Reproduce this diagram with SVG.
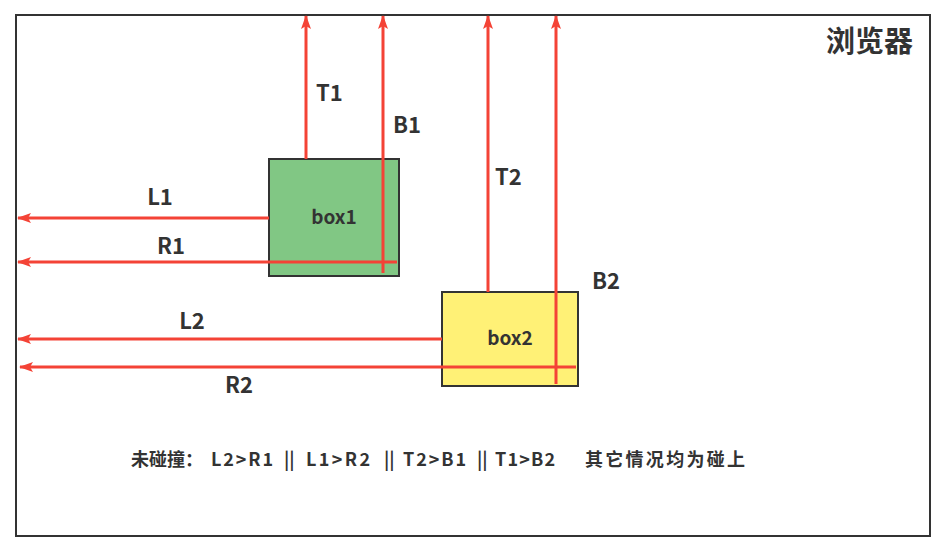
<svg xmlns="http://www.w3.org/2000/svg" width="945" height="551" viewBox="0 0 945 551">
<style>
.lbl{font-family:"Noto Sans CJK SC","Open Sans",sans-serif;font-weight:bold;fill:#333;}
.arr{stroke:#f44336;stroke-width:3;fill:none;}
.box{stroke:#333;stroke-width:2;}
</style>
<defs>
<marker id="ah" viewBox="0 0 14 10" refX="13" refY="5" markerWidth="14" markerHeight="10" markerUnits="userSpaceOnUse" orient="auto">
<path d="M0,0 L14,5 L0,10 L3,5 Z" fill="#f44336"/>
</marker>
</defs>
<rect width="945" height="551" fill="#fff"/>
<g id="browser">
<rect x="16" y="15" width="914" height="521" fill="#fff" stroke="#333" stroke-width="2"/>
<text class="lbl" x="913" y="52" font-size="29" text-anchor="end">浏览器</text>
</g>
<g id="box1">
<rect class="box" x="269" y="159" width="130" height="117" fill="#81c784"/>
<text class="lbl" x="334" y="224" font-size="19" text-anchor="middle">box1</text>
</g>
<g id="box2">
<rect class="box" x="442" y="292" width="136" height="94" fill="#fff176"/>
<text class="lbl" x="510" y="345" font-size="19" text-anchor="middle">box2</text>
</g>
<g id="connectors">
<line class="arr" x1="269" y1="218" x2="18" y2="218" marker-end="url(#ah)"/>
<line class="arr" x1="397" y1="262" x2="18" y2="262" marker-end="url(#ah)"/>
<line class="arr" x1="442" y1="339" x2="18" y2="339" marker-end="url(#ah)"/>
<line class="arr" x1="576" y1="367" x2="20" y2="367" marker-end="url(#ah)"/>
<line class="arr" x1="306" y1="159" x2="306" y2="16" marker-end="url(#ah)"/>
<line class="arr" x1="383" y1="273" x2="383" y2="16" marker-end="url(#ah)"/>
<line class="arr" x1="488" y1="292" x2="488" y2="16" marker-end="url(#ah)"/>
<line class="arr" x1="556" y1="384" x2="556" y2="16" marker-end="url(#ah)"/>
</g>
<g id="labels">
<text class="lbl" x="316" y="101" font-size="22">T1</text>
<text class="lbl" x="393" y="133" font-size="22">B1</text>
<text class="lbl" x="495" y="185" font-size="22">T2</text>
<text class="lbl" x="592" y="289" font-size="22">B2</text>
<text class="lbl" x="160" y="205" font-size="22" text-anchor="middle">L1</text>
<text class="lbl" x="171" y="254" font-size="22" text-anchor="middle">R1</text>
<text class="lbl" x="192" y="329" font-size="22" text-anchor="middle">L2</text>
<text class="lbl" x="239" y="393" font-size="22" text-anchor="middle">R2</text>
<text class="lbl" y="466" font-size="18"><tspan x="131">未碰撞：</tspan><tspan x="211" textLength="62" lengthAdjust="spacing">L2&gt;R1</tspan><tspan x="284">||</tspan><tspan x="306" textLength="64" lengthAdjust="spacing">L1&gt;R2</tspan><tspan x="384">||</tspan><tspan x="403" textLength="63" lengthAdjust="spacing">T2&gt;B1</tspan><tspan x="477">||</tspan><tspan x="495" textLength="60" lengthAdjust="spacing">T1&gt;B2</tspan><tspan x="585" textLength="160" lengthAdjust="spacing">其它情况均为碰上</tspan></text>
</g>
</svg>
